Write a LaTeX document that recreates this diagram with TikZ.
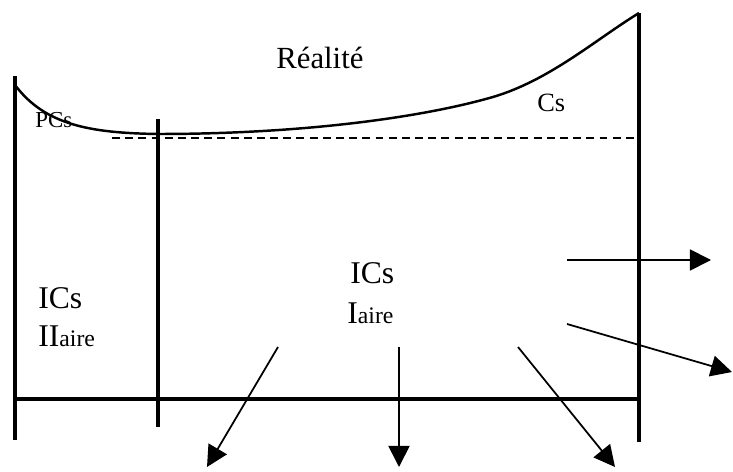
\documentclass[tikz,border=0pt]{standalone}
\usepackage{fontspec}
\setmainfont{Liberation Serif}
\usetikzlibrary{arrows.meta}

\newcommand\airetxt{{\fontsize{13.5}{16}\selectfont aire}}

\begin{document}
\begin{tikzpicture}[
    x=0.02cm, y=-0.02cm,
    >={Triangle[length=12pt, width=12pt]},
    wall/.style={line width=2.3pt},
    reality/.style={line width=1.4pt},
    level/.style={line width=1.7pt, dash pattern=on 4.5pt off 3pt},
    flow/.style={->, line width=1pt},
    label/.style={inner sep=0pt, anchor=base west},
    bigtext/.style={label, font=\fontsize{18}{21}\selectfont},
]
\useasboundingbox (0,0) rectangle (733,472);

% =====================================================================
%  FRAME:  walls and ground
% =====================================================================
\coordinate (Ltop) at (15,76);    \coordinate (Lbot) at (15,440);
\coordinate (Mtop) at (158,119);  \coordinate (Mbot) at (158,427);
\coordinate (Rtop) at (639,13);   \coordinate (Rbot) at (639,442);
\coordinate (Gl) at (15,399);     \coordinate (Gr) at (639,399);

\draw[wall] (Ltop) -- (Lbot);
\draw[wall] (Mtop) -- (Mbot);
\draw[wall] (Rtop) -- (Rbot);
\draw[wall] (Gl) -- (Gr);

% Reality curve
\draw[reality] (15,85) .. controls (45,125) and (90,133) .. (158,134)
    .. controls (300,134) and (420,118) .. (493,97)
    .. controls (550,80) and (595,40) .. (Rtop);

% Dashed level
\coordinate (Dl) at (112,138);
\coordinate (Dr) at (637,138);
\draw[level] (Dl) -- (Dr);

% =====================================================================
%  LABELS
% =====================================================================
\node[label, font=\fontsize{17.5}{20}\selectfont] (real) at (276,69) {Réalité};
\node[label, font=\fontsize{13}{15}\selectfont] (pcs) at (35,128) {PCs};
\node[label, font=\fontsize{15}{18}\selectfont] (cs) at (537,112) {Cs};

\node[bigtext] (icsL) at (38,309) {ICs};
\node[bigtext] (iiL)  at (38,347) {II\airetxt};

\node[bigtext] (icsM) at (350,284) {ICs};
\node[bigtext] (iM)   at (347,324) {I\airetxt};

% =====================================================================
%  FLOWS
% =====================================================================
\coordinate (f1a) at (567,260); \coordinate (f1b) at (711,260);
\coordinate (f2a) at (567,324); \coordinate (f2b) at (732,372);
\coordinate (f3a) at (278,347); \coordinate (f3b) at (207,467);
\coordinate (f4a) at (399,347); \coordinate (f4b) at (399,467);
\coordinate (f5a) at (518,347); \coordinate (f5b) at (615,467);

\draw[flow] (f1a) -- (f1b);
\draw[flow] (f2a) -- (f2b);
\draw[flow] (f3a) -- (f3b);
\draw[flow] (f4a) -- (f4b);
\draw[flow] (f5a) -- (f5b);

\end{tikzpicture}
\end{document}
